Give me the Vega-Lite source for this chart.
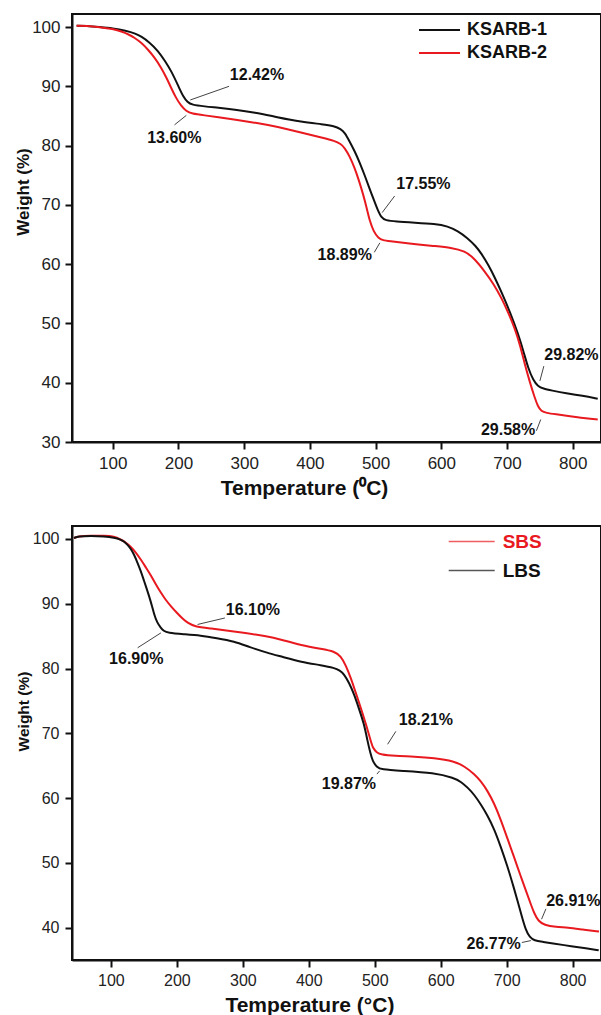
{
  "$schema": "https://vega.github.io/schema/vega-lite/v6.json",
  "padding": {"left": 13, "top": 13, "right": 0, "bottom": 0},
  "background": "white",
  "spacing": 25,
  "config": {
    "font": "Liberation Sans",
    "view": {"stroke": "#111", "strokeWidth": 2},
    "axis": {
      "grid": false, "domainColor": "#111", "domainWidth": 2,
      "tickColor": "#111", "tickWidth": 2, "tickSize": 7,
      "labelColor": "#222", "labelFont": "Liberation Sans",
      "titleFont": "Liberation Sans", "titleFontWeight": "bold", "titleColor": "#111"
    },
    "legend": {"labelFont": "Liberation Sans", "labelFontWeight": "bold", "labelColor": "#111"}
  },
  "datasets": {
    "ksarb": [
      {"sample": "KSARB-1", "temp": 45, "weight": 100.2},
      {"sample": "KSARB-1", "temp": 60, "weight": 100.2},
      {"sample": "KSARB-1", "temp": 80, "weight": 100.0},
      {"sample": "KSARB-1", "temp": 100, "weight": 99.8},
      {"sample": "KSARB-1", "temp": 120, "weight": 99.4},
      {"sample": "KSARB-1", "temp": 135, "weight": 98.9},
      {"sample": "KSARB-1", "temp": 143.5, "weight": 98.4},
      {"sample": "KSARB-1", "temp": 155, "weight": 97.5},
      {"sample": "KSARB-1", "temp": 169, "weight": 96.0},
      {"sample": "KSARB-1", "temp": 180, "weight": 94.2},
      {"sample": "KSARB-1", "temp": 189, "weight": 92.6},
      {"sample": "KSARB-1", "temp": 200, "weight": 90.0},
      {"sample": "KSARB-1", "temp": 207, "weight": 88.3},
      {"sample": "KSARB-1", "temp": 214, "weight": 87.3},
      {"sample": "KSARB-1", "temp": 220, "weight": 86.9},
      {"sample": "KSARB-1", "temp": 240, "weight": 86.6},
      {"sample": "KSARB-1", "temp": 260, "weight": 86.4},
      {"sample": "KSARB-1", "temp": 285, "weight": 86.1},
      {"sample": "KSARB-1", "temp": 316, "weight": 85.6},
      {"sample": "KSARB-1", "temp": 350, "weight": 84.8},
      {"sample": "KSARB-1", "temp": 387, "weight": 84.0},
      {"sample": "KSARB-1", "temp": 420, "weight": 83.6},
      {"sample": "KSARB-1", "temp": 437, "weight": 83.3},
      {"sample": "KSARB-1", "temp": 447, "weight": 82.8},
      {"sample": "KSARB-1", "temp": 453, "weight": 82.2},
      {"sample": "KSARB-1", "temp": 460, "weight": 80.8},
      {"sample": "KSARB-1", "temp": 468, "weight": 79.1},
      {"sample": "KSARB-1", "temp": 476, "weight": 77.1},
      {"sample": "KSARB-1", "temp": 483, "weight": 75.1},
      {"sample": "KSARB-1", "temp": 490, "weight": 73.0},
      {"sample": "KSARB-1", "temp": 496, "weight": 71.2},
      {"sample": "KSARB-1", "temp": 503, "weight": 69.2},
      {"sample": "KSARB-1", "temp": 509, "weight": 67.8},
      {"sample": "KSARB-1", "temp": 515, "weight": 67.4},
      {"sample": "KSARB-1", "temp": 530, "weight": 67.2},
      {"sample": "KSARB-1", "temp": 560, "weight": 67.0},
      {"sample": "KSARB-1", "temp": 590, "weight": 66.8},
      {"sample": "KSARB-1", "temp": 610, "weight": 66.4},
      {"sample": "KSARB-1", "temp": 625, "weight": 65.6},
      {"sample": "KSARB-1", "temp": 640, "weight": 64.4},
      {"sample": "KSARB-1", "temp": 652, "weight": 63.1},
      {"sample": "KSARB-1", "temp": 661, "weight": 61.8},
      {"sample": "KSARB-1", "temp": 672, "weight": 59.8},
      {"sample": "KSARB-1", "temp": 682, "weight": 57.6},
      {"sample": "KSARB-1", "temp": 691.5, "weight": 55.3},
      {"sample": "KSARB-1", "temp": 705, "weight": 51.8},
      {"sample": "KSARB-1", "temp": 717, "weight": 48.2},
      {"sample": "KSARB-1", "temp": 725, "weight": 45.3},
      {"sample": "KSARB-1", "temp": 732, "weight": 42.5},
      {"sample": "KSARB-1", "temp": 740, "weight": 40.4},
      {"sample": "KSARB-1", "temp": 747, "weight": 39.4},
      {"sample": "KSARB-1", "temp": 755, "weight": 39.0},
      {"sample": "KSARB-1", "temp": 767.5, "weight": 38.7},
      {"sample": "KSARB-1", "temp": 790, "weight": 38.2},
      {"sample": "KSARB-1", "temp": 815, "weight": 37.8},
      {"sample": "KSARB-1", "temp": 838, "weight": 37.3},
      {"sample": "KSARB-2", "temp": 45, "weight": 100.2},
      {"sample": "KSARB-2", "temp": 60, "weight": 100.2},
      {"sample": "KSARB-2", "temp": 80, "weight": 100.0},
      {"sample": "KSARB-2", "temp": 100, "weight": 99.7},
      {"sample": "KSARB-2", "temp": 115, "weight": 99.2},
      {"sample": "KSARB-2", "temp": 125, "weight": 98.7},
      {"sample": "KSARB-2", "temp": 133, "weight": 98.2},
      {"sample": "KSARB-2", "temp": 143, "weight": 97.4},
      {"sample": "KSARB-2", "temp": 153.7, "weight": 96.2},
      {"sample": "KSARB-2", "temp": 164, "weight": 94.8},
      {"sample": "KSARB-2", "temp": 174, "weight": 93.1},
      {"sample": "KSARB-2", "temp": 182, "weight": 91.4},
      {"sample": "KSARB-2", "temp": 189, "weight": 89.7},
      {"sample": "KSARB-2", "temp": 196, "weight": 88.1},
      {"sample": "KSARB-2", "temp": 204, "weight": 86.7},
      {"sample": "KSARB-2", "temp": 212, "weight": 85.8},
      {"sample": "KSARB-2", "temp": 220, "weight": 85.4},
      {"sample": "KSARB-2", "temp": 240, "weight": 85.1},
      {"sample": "KSARB-2", "temp": 260, "weight": 84.8},
      {"sample": "KSARB-2", "temp": 285.5, "weight": 84.4},
      {"sample": "KSARB-2", "temp": 320, "weight": 83.8},
      {"sample": "KSARB-2", "temp": 350, "weight": 83.2},
      {"sample": "KSARB-2", "temp": 387, "weight": 82.2},
      {"sample": "KSARB-2", "temp": 420, "weight": 81.3},
      {"sample": "KSARB-2", "temp": 437.7, "weight": 80.8},
      {"sample": "KSARB-2", "temp": 447, "weight": 80.3},
      {"sample": "KSARB-2", "temp": 453, "weight": 79.6},
      {"sample": "KSARB-2", "temp": 460, "weight": 78.3},
      {"sample": "KSARB-2", "temp": 468, "weight": 76.3},
      {"sample": "KSARB-2", "temp": 475, "weight": 74.0},
      {"sample": "KSARB-2", "temp": 481, "weight": 71.8},
      {"sample": "KSARB-2", "temp": 486, "weight": 69.7},
      {"sample": "KSARB-2", "temp": 491, "weight": 67.3},
      {"sample": "KSARB-2", "temp": 497, "weight": 65.5},
      {"sample": "KSARB-2", "temp": 504, "weight": 64.4},
      {"sample": "KSARB-2", "temp": 512, "weight": 64.0},
      {"sample": "KSARB-2", "temp": 519, "weight": 63.9},
      {"sample": "KSARB-2", "temp": 550, "weight": 63.5},
      {"sample": "KSARB-2", "temp": 590, "weight": 63.05},
      {"sample": "KSARB-2", "temp": 615, "weight": 62.8},
      {"sample": "KSARB-2", "temp": 636, "weight": 62.2},
      {"sample": "KSARB-2", "temp": 650, "weight": 61.0},
      {"sample": "KSARB-2", "temp": 666, "weight": 58.8},
      {"sample": "KSARB-2", "temp": 680, "weight": 56.6},
      {"sample": "KSARB-2", "temp": 691.5, "weight": 54.3},
      {"sample": "KSARB-2", "temp": 702, "weight": 51.8},
      {"sample": "KSARB-2", "temp": 711.7, "weight": 49.2},
      {"sample": "KSARB-2", "temp": 720, "weight": 46.3},
      {"sample": "KSARB-2", "temp": 727, "weight": 43.1},
      {"sample": "KSARB-2", "temp": 735, "weight": 40.0},
      {"sample": "KSARB-2", "temp": 742, "weight": 37.5},
      {"sample": "KSARB-2", "temp": 747, "weight": 36.0},
      {"sample": "KSARB-2", "temp": 752, "weight": 35.2},
      {"sample": "KSARB-2", "temp": 760, "weight": 34.9},
      {"sample": "KSARB-2", "temp": 772.6, "weight": 34.7},
      {"sample": "KSARB-2", "temp": 800, "weight": 34.3},
      {"sample": "KSARB-2", "temp": 820, "weight": 34.0},
      {"sample": "KSARB-2", "temp": 838, "weight": 33.8}
    ],
    "ksarbNotes": [
      {"label": "12.42%", "tx": 319.5, "ty": 91.9, "x1": 277, "y1": 90.0, "x2": 218, "y2": 87.7},
      {"label": "13.60%", "tx": 193.7, "ty": 81.3, "x1": 194, "y1": 83.5, "x2": 212, "y2": 85.1},
      {"label": "17.55%", "tx": 572.7, "ty": 73.6, "x1": 529, "y1": 71.5, "x2": 510, "y2": 68.7},
      {"label": "18.89%", "tx": 453, "ty": 61.5, "x1": 498, "y1": 62.0, "x2": 506.5, "y2": 63.6},
      {"label": "29.82%", "tx": 798, "ty": 44.6, "x1": 756, "y1": 42.8, "x2": 750, "y2": 40.3},
      {"label": "29.58%", "tx": 701.6, "ty": 32.1, "x1": 744.7, "y1": 31.9, "x2": 751.3, "y2": 33.8}
    ],
    "bs": [
      {"sample": "SBS", "temp": 44, "weight": 100.15},
      {"sample": "SBS", "temp": 50, "weight": 100.4},
      {"sample": "SBS", "temp": 70, "weight": 100.5},
      {"sample": "SBS", "temp": 90, "weight": 100.5},
      {"sample": "SBS", "temp": 105, "weight": 100.4},
      {"sample": "SBS", "temp": 115, "weight": 99.9},
      {"sample": "SBS", "temp": 122, "weight": 99.5},
      {"sample": "SBS", "temp": 130.3, "weight": 98.8},
      {"sample": "SBS", "temp": 138, "weight": 97.9},
      {"sample": "SBS", "temp": 145.5, "weight": 96.8},
      {"sample": "SBS", "temp": 153, "weight": 95.6},
      {"sample": "SBS", "temp": 160.6, "weight": 94.4},
      {"sample": "SBS", "temp": 168, "weight": 93.0},
      {"sample": "SBS", "temp": 175.8, "weight": 91.7},
      {"sample": "SBS", "temp": 183, "weight": 90.6},
      {"sample": "SBS", "temp": 191, "weight": 89.6},
      {"sample": "SBS", "temp": 200, "weight": 88.6},
      {"sample": "SBS", "temp": 208.7, "weight": 87.7},
      {"sample": "SBS", "temp": 217, "weight": 87.0},
      {"sample": "SBS", "temp": 226.3, "weight": 86.5},
      {"sample": "SBS", "temp": 250, "weight": 86.2},
      {"sample": "SBS", "temp": 287, "weight": 85.7},
      {"sample": "SBS", "temp": 337.6, "weight": 85.0},
      {"sample": "SBS", "temp": 360, "weight": 84.4},
      {"sample": "SBS", "temp": 388, "weight": 83.6},
      {"sample": "SBS", "temp": 420, "weight": 83.0},
      {"sample": "SBS", "temp": 438.6, "weight": 82.65},
      {"sample": "SBS", "temp": 448.7, "weight": 81.9},
      {"sample": "SBS", "temp": 456, "weight": 80.5},
      {"sample": "SBS", "temp": 463.9, "weight": 78.5},
      {"sample": "SBS", "temp": 471, "weight": 76.3},
      {"sample": "SBS", "temp": 479, "weight": 73.9},
      {"sample": "SBS", "temp": 487, "weight": 71.3},
      {"sample": "SBS", "temp": 494, "weight": 68.8},
      {"sample": "SBS", "temp": 497, "weight": 67.75},
      {"sample": "SBS", "temp": 503, "weight": 67.0},
      {"sample": "SBS", "temp": 509.4, "weight": 66.7},
      {"sample": "SBS", "temp": 530, "weight": 66.5},
      {"sample": "SBS", "temp": 560, "weight": 66.4},
      {"sample": "SBS", "temp": 590, "weight": 66.2},
      {"sample": "SBS", "temp": 620.5, "weight": 65.7},
      {"sample": "SBS", "temp": 636, "weight": 64.9},
      {"sample": "SBS", "temp": 651, "weight": 63.7},
      {"sample": "SBS", "temp": 661, "weight": 62.6},
      {"sample": "SBS", "temp": 671, "weight": 61.1},
      {"sample": "SBS", "temp": 681, "weight": 59.2},
      {"sample": "SBS", "temp": 691.3, "weight": 56.6},
      {"sample": "SBS", "temp": 701, "weight": 53.8},
      {"sample": "SBS", "temp": 711.5, "weight": 50.8},
      {"sample": "SBS", "temp": 721, "weight": 48.0},
      {"sample": "SBS", "temp": 731.7, "weight": 45.0},
      {"sample": "SBS", "temp": 737, "weight": 43.5},
      {"sample": "SBS", "temp": 741.8, "weight": 42.2},
      {"sample": "SBS", "temp": 748, "weight": 41.0},
      {"sample": "SBS", "temp": 757, "weight": 40.4},
      {"sample": "SBS", "temp": 775, "weight": 40.1},
      {"sample": "SBS", "temp": 792.4, "weight": 40.0},
      {"sample": "SBS", "temp": 815, "weight": 39.7},
      {"sample": "SBS", "temp": 840, "weight": 39.4},
      {"sample": "LBS", "temp": 44, "weight": 100.15},
      {"sample": "LBS", "temp": 50, "weight": 100.4},
      {"sample": "LBS", "temp": 70, "weight": 100.5},
      {"sample": "LBS", "temp": 90, "weight": 100.4},
      {"sample": "LBS", "temp": 105, "weight": 100.2},
      {"sample": "LBS", "temp": 115, "weight": 99.9},
      {"sample": "LBS", "temp": 120, "weight": 99.6},
      {"sample": "LBS", "temp": 125.3, "weight": 99.1},
      {"sample": "LBS", "temp": 130, "weight": 98.5},
      {"sample": "LBS", "temp": 135.3, "weight": 97.55},
      {"sample": "LBS", "temp": 140, "weight": 96.4},
      {"sample": "LBS", "temp": 145.5, "weight": 95.0},
      {"sample": "LBS", "temp": 150, "weight": 93.6},
      {"sample": "LBS", "temp": 155.6, "weight": 91.9},
      {"sample": "LBS", "temp": 160, "weight": 90.5},
      {"sample": "LBS", "temp": 165.7, "weight": 88.3},
      {"sample": "LBS", "temp": 170, "weight": 87.1},
      {"sample": "LBS", "temp": 175.8, "weight": 86.25},
      {"sample": "LBS", "temp": 180, "weight": 85.8},
      {"sample": "LBS", "temp": 186, "weight": 85.5},
      {"sample": "LBS", "temp": 210, "weight": 85.3},
      {"sample": "LBS", "temp": 236.5, "weight": 85.1},
      {"sample": "LBS", "temp": 260, "weight": 84.7},
      {"sample": "LBS", "temp": 287, "weight": 84.2},
      {"sample": "LBS", "temp": 310, "weight": 83.3},
      {"sample": "LBS", "temp": 337.6, "weight": 82.4},
      {"sample": "LBS", "temp": 360, "weight": 81.8},
      {"sample": "LBS", "temp": 388, "weight": 81.0},
      {"sample": "LBS", "temp": 420, "weight": 80.5},
      {"sample": "LBS", "temp": 438.6, "weight": 80.1},
      {"sample": "LBS", "temp": 447, "weight": 79.7},
      {"sample": "LBS", "temp": 453.7, "weight": 79.1},
      {"sample": "LBS", "temp": 461, "weight": 77.8},
      {"sample": "LBS", "temp": 468.9, "weight": 76.0},
      {"sample": "LBS", "temp": 476, "weight": 73.8},
      {"sample": "LBS", "temp": 484, "weight": 71.4},
      {"sample": "LBS", "temp": 489, "weight": 68.8},
      {"sample": "LBS", "temp": 493, "weight": 67.1},
      {"sample": "LBS", "temp": 496.7, "weight": 65.7},
      {"sample": "LBS", "temp": 503, "weight": 64.8},
      {"sample": "LBS", "temp": 509.4, "weight": 64.4},
      {"sample": "LBS", "temp": 540, "weight": 64.2},
      {"sample": "LBS", "temp": 590, "weight": 63.9},
      {"sample": "LBS", "temp": 620.5, "weight": 63.1},
      {"sample": "LBS", "temp": 631, "weight": 62.5},
      {"sample": "LBS", "temp": 641, "weight": 61.6},
      {"sample": "LBS", "temp": 651, "weight": 60.5},
      {"sample": "LBS", "temp": 661, "weight": 59.0},
      {"sample": "LBS", "temp": 671, "weight": 57.3},
      {"sample": "LBS", "temp": 681.2, "weight": 55.2},
      {"sample": "LBS", "temp": 691, "weight": 52.5},
      {"sample": "LBS", "temp": 701.4, "weight": 49.4},
      {"sample": "LBS", "temp": 709, "weight": 46.8},
      {"sample": "LBS", "temp": 716.6, "weight": 44.1},
      {"sample": "LBS", "temp": 723, "weight": 41.7},
      {"sample": "LBS", "temp": 729, "weight": 39.6},
      {"sample": "LBS", "temp": 735, "weight": 38.5},
      {"sample": "LBS", "temp": 741.8, "weight": 38.0},
      {"sample": "LBS", "temp": 755, "weight": 37.8},
      {"sample": "LBS", "temp": 767, "weight": 37.6},
      {"sample": "LBS", "temp": 800, "weight": 37.1},
      {"sample": "LBS", "temp": 820, "weight": 36.8},
      {"sample": "LBS", "temp": 839.5, "weight": 36.5}
    ],
    "bsNotes": [
      {"label": "16.10%", "tx": 315.3, "ty": 89.1, "x1": 272.8, "y1": 87.8, "x2": 231.4, "y2": 86.8},
      {"label": "16.90%", "tx": 138.4, "ty": 81.4, "x1": 140.5, "y1": 83.2, "x2": 175.8, "y2": 85.5},
      {"label": "18.21%", "tx": 577.6, "ty": 72.0, "x1": 532, "y1": 70.3, "x2": 519.5, "y2": 68.3},
      {"label": "19.87%", "tx": 460.8, "ty": 62.1, "x1": 503.3, "y1": 63.7, "x2": 507.4, "y2": 64.2},
      {"label": "26.91%", "tx": 801, "ty": 44.15, "x1": 759.5, "y1": 42.9, "x2": 752.9, "y2": 41.3},
      {"label": "26.77%", "tx": 680.2, "ty": 37.4, "x1": 723, "y1": 37.7, "x2": 736.7, "y2": 38.0}
    ]
  },
  "vconcat": [
    {
      "width": 529,
      "height": 428,
      "layer": [
        {
          "data": {"name": "ksarb"},
          "mark": {"type": "line", "strokeWidth": 2, "interpolate": "basis"},
          "encoding": {
            "x": {"field": "temp", "type": "quantitative",
              "scale": {"domain": [38, 843], "nice": false, "zero": false},
              "axis": {"values": [100, 200, 300, 400, 500, 600, 700, 800], "title": "Temperature (⁰C)",
                "titleFontSize": 21, "labelFontSize": 17, "labelPadding": 6, "titleX": 232, "titleY": 35.5}},
            "y": {"field": "weight", "type": "quantitative",
              "scale": {"domain": [30, 102.2], "nice": false, "zero": false},
              "axis": {"values": [30, 40, 50, 60, 70, 80, 90, 100], "title": "Weight (%)",
                "titleFontSize": 17, "labelFontSize": 17, "labelPadding": 5, "titleX": -49, "titleY": 177.5, "titleBaseline": "middle"}},
            "color": {"field": "sample", "type": "nominal",
              "scale": {"domain": ["KSARB-1", "KSARB-2"], "range": ["#111111", "#e8191f"]},
              "legend": {"orient": "none", "legendX": 346, "legendY": 6, "title": null, "padding": 0,
                "symbolType": "stroke", "symbolSize": 1681, "symbolStrokeWidth": 2, "clipHeight": 20,
                "rowPadding": 3, "labelOffset": 6, "labelFontSize": 18}}
          }
        },
        {
          "data": {"name": "ksarbNotes"},
          "mark": {"type": "rule", "color": "#444", "strokeWidth": 1},
          "encoding": {
            "x": {"field": "x1", "type": "quantitative"},
            "y": {"field": "y1", "type": "quantitative"},
            "x2": {"field": "x2"},
            "y2": {"field": "y2"}
          }
        },
        {
          "data": {"name": "ksarbNotes"},
          "mark": {"type": "text", "fontWeight": "bold", "fontSize": 16, "color": "#111", "font": "Liberation Sans"},
          "encoding": {
            "x": {"field": "tx", "type": "quantitative"},
            "y": {"field": "ty", "type": "quantitative"},
            "text": {"field": "label"}
          }
        }
      ]
    },
    {
      "width": 529,
      "height": 434,
      "layer": [
        {
          "data": {"name": "bs"},
          "mark": {"type": "line", "strokeWidth": 2, "interpolate": "basis"},
          "encoding": {
            "x": {"field": "temp", "type": "quantitative",
              "scale": {"domain": [41, 843], "nice": false, "zero": false},
              "axis": {"values": [100, 200, 300, 400, 500, 600, 700, 800], "title": "Temperature (°C)",
                "titleFontSize": 21, "labelFontSize": 16, "labelPadding": 5, "titleX": 237.4, "titleY": 34}},
            "y": {"field": "weight", "type": "quantitative",
              "scale": {"domain": [35, 102], "nice": false, "zero": false},
              "axis": {"values": [40, 50, 60, 70, 80, 90, 100], "title": "Weight (%)",
                "titleFontSize": 15.5, "labelFontSize": 16, "labelPadding": 6, "titleX": -49, "titleY": 185, "titleBaseline": "middle"}},
            "color": {"field": "sample", "type": "nominal",
              "scale": {"domain": ["SBS", "LBS"], "range": ["#e8191f", "#111111"]},
              "legend": {"orient": "none", "legendX": 375.7, "legendY": 3.5, "title": null, "padding": 0,
                "symbolType": "stroke", "symbolSize": 2116, "symbolStrokeWidth": 1.5, "symbolOpacity": 0.7, "clipHeight": 24,
                "rowPadding": 5, "labelOffset": 7, "labelFontSize": 19,
                "encode": {"labels": {"update": {"fill": {"signal": "datum.value === 'SBS' ? '#e8191f' : '#111111'"}}}}}}
          }
        },
        {
          "data": {"name": "bsNotes"},
          "mark": {"type": "rule", "color": "#444", "strokeWidth": 1},
          "encoding": {
            "x": {"field": "x1", "type": "quantitative"},
            "y": {"field": "y1", "type": "quantitative"},
            "x2": {"field": "x2"},
            "y2": {"field": "y2"}
          }
        },
        {
          "data": {"name": "bsNotes"},
          "mark": {"type": "text", "fontWeight": "bold", "fontSize": 16, "color": "#111", "font": "Liberation Sans"},
          "encoding": {
            "x": {"field": "tx", "type": "quantitative"},
            "y": {"field": "ty", "type": "quantitative"},
            "text": {"field": "label"}
          }
        }
      ]
    }
  ],
  "resolve": {"scale": {"color": "independent", "x": "independent", "y": "independent"}}
}
